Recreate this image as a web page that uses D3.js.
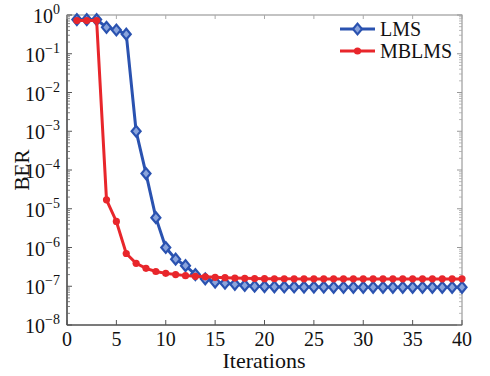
<!DOCTYPE html>
<html><head><meta charset="utf-8">
<script src="https://cdn.jsdelivr.net/npm/d3@7"></script>
<style>body{margin:0;background:#fff}svg{display:block}</style>
</head><body>
<svg id="c" width="490" height="376" font-family="Liberation Serif"></svg>
<script>
const iterations = d3.range(1, 41);
const lmsBER = [0.76,0.76,0.76,0.48,0.41,0.32,1e-3,8.1e-5,5.9e-6,1.0e-6,5.0e-7,3.4e-7,2.0e-7,1.55e-7,1.28e-7,1.2e-7,1.12e-7,1.05e-7,1.0e-7,9.8e-8,9.7e-8,9.6e-8,9.6e-8,9.5e-8,9.5e-8,9.5e-8,9.4e-8,9.4e-8,9.4e-8,9.4e-8,9.4e-8,9.4e-8,9.4e-8,9.4e-8,9.4e-8,9.4e-8,9.4e-8,9.4e-8,9.4e-8,9.4e-8];
const mblmsBER = [0.72,0.72,0.72,1.7e-5,4.7e-6,7.0e-7,3.9e-7,2.9e-7,2.4e-7,2.15e-7,2.0e-7,1.88e-7,1.8e-7,1.75e-7,1.7e-7,1.66e-7,1.63e-7,1.6e-7,1.58e-7,1.57e-7,1.56e-7,1.56e-7,1.55e-7,1.55e-7,1.55e-7,1.55e-7,1.55e-7,1.55e-7,1.55e-7,1.55e-7,1.55e-7,1.55e-7,1.55e-7,1.55e-7,1.55e-7,1.55e-7,1.55e-7,1.55e-7,1.55e-7,1.55e-7];
const xTicks = [0,5,10,15,20,25,30,35,40];
const yExps = [0,-1,-2,-3,-4,-5,-6,-7,-8];
const seriesNames = ["LMS","MBLMS"];

const L=67, R=462, T=15, B=325;
const FF = "Liberation Serif";
const svg = d3.select("#c");
const x = d3.scaleLinear().domain([0,40]).range([L,R]);
const y = d3.scaleLog().domain([1e-8,1]).range([B,T]);
const blue = "#2a52b0", red = "#e8262b";

const minor = [];
for (let e=-8; e<0; e++) for (let k=2; k<=9; k++) minor.push(k*Math.pow(10,e));

const g = svg.append("g");
g.append("rect").attr("x",L).attr("y",T).attr("width",R-L).attr("height",B-T)
 .attr("fill","none").attr("stroke","#888").attr("stroke-width",1);
g.append("line").attr("x1",L).attr("x2",L).attr("y1",T).attr("y2",B).attr("stroke","#333").attr("stroke-width",1.2);
g.append("line").attr("x1",L).attr("x2",R).attr("y1",B).attr("y2",B).attr("stroke","#333").attr("stroke-width",1.2);

yExps.forEach(e=>{
  const v=Math.pow(10,e);
  g.append("line").attr("x1",L).attr("x2",L+5).attr("y1",y(v)).attr("y2",y(v)).attr("stroke","#555");
  g.append("line").attr("x1",R).attr("x2",R-5).attr("y1",y(v)).attr("y2",y(v)).attr("stroke","#999");
  const t = g.append("text").attr("x",L-7).attr("y",y(v)+8).attr("text-anchor","end")
    .attr("font-family",FF).attr("font-size",20).attr("fill","#111");
  t.append("tspan").text("10");
  t.append("tspan").attr("dy",-9).attr("font-size",14).text(e===0?"0":"\u2212"+(-e));
});
minor.forEach(v=>{
  g.append("line").attr("x1",L).attr("x2",L+3).attr("y1",y(v)).attr("y2",y(v)).attr("stroke","#666").attr("stroke-width",0.8);
  g.append("line").attr("x1",R).attr("x2",R-3).attr("y1",y(v)).attr("y2",y(v)).attr("stroke","#aaa").attr("stroke-width",0.8);
});
xTicks.forEach(v=>{
  g.append("line").attr("x1",x(v)).attr("x2",x(v)).attr("y1",B).attr("y2",B-5).attr("stroke","#555");
  g.append("line").attr("x1",x(v)).attr("x2",x(v)).attr("y1",T).attr("y2",T+4).attr("stroke","#aaa");
  g.append("text").attr("x",x(v)).attr("y",B+21).attr("text-anchor","middle")
    .attr("font-family",FF).attr("font-size",20).attr("fill","#111").text(v);
});
g.append("text").attr("x",264).attr("y",368).attr("text-anchor","middle")
  .attr("font-family",FF).attr("font-size",22).attr("fill","#111").text("Iterations");
g.append("text").attr("transform","translate(29,170) rotate(-90)").attr("text-anchor","middle")
  .attr("font-family",FF).attr("font-size",21).attr("fill","#111").text("BER");

const line = d3.line().x((d,i)=>x(iterations[i])).y(d=>y(d));
const diamond = (cx,cy)=>`M${cx},${cy-5.4}L${cx+4.5},${cy}L${cx},${cy+5.4}L${cx-4.5},${cy}Z`;

g.append("path").datum(lmsBER).attr("d",line).attr("fill","none").attr("stroke",blue).attr("stroke-width",3);
g.selectAll(".dm").data(lmsBER).enter().append("path")
  .attr("d",(d,i)=>diamond(x(iterations[i]),y(d))).attr("fill","#8aa4dc").attr("stroke",blue).attr("stroke-width",2.2);
g.append("path").datum(mblmsBER).attr("d",line).attr("fill","none").attr("stroke",red).attr("stroke-width",3);
g.selectAll(".ci").data(mblmsBER).enter().append("circle")
  .attr("cx",(d,i)=>x(iterations[i])).attr("cy",d=>y(d)).attr("r",3.6).attr("fill",red);

const lg = [{n:seriesNames[0],c:blue,y:29},{n:seriesNames[1],c:red,y:51}];
lg.forEach((d,i)=>{
  g.append("line").attr("x1",340).attr("x2",375).attr("y1",d.y).attr("y2",d.y).attr("stroke",d.c).attr("stroke-width",3);
  if(i===0) g.append("path").attr("d",diamond(357.5,d.y)).attr("fill","#8aa4dc").attr("stroke",d.c).attr("stroke-width",2.2);
  else g.append("circle").attr("cx",357.5).attr("cy",d.y).attr("r",3.6).attr("fill",d.c);
  g.append("text").attr("x",380).attr("y",d.y+7).attr("font-family",FF).attr("font-size",20).attr("fill","#111").text(d.n);
});
</script>
</body></html>
